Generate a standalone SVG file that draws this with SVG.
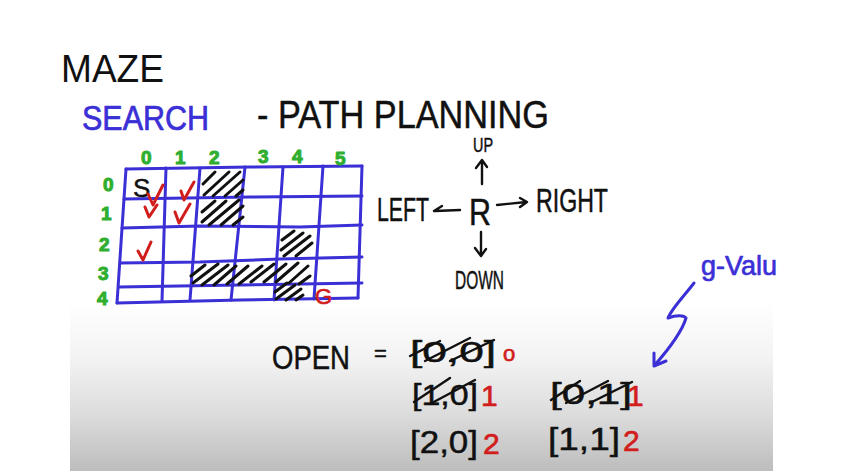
<svg xmlns="http://www.w3.org/2000/svg" width="843" height="471" viewBox="0 0 843 471">
<defs>
<linearGradient id="board" x1="0" y1="0" x2="0" y2="1">
<stop offset="0" stop-color="#ffffff"/>
<stop offset="0.55" stop-color="#ffffff"/>
<stop offset="0.7" stop-color="#f3f3f3"/>
<stop offset="0.85" stop-color="#dcdcdc"/>
<stop offset="1" stop-color="#bdbdbd"/>
</linearGradient>
</defs>
<style>
.hand{font-family:"Liberation Sans",Arial,sans-serif;stroke-linejoin:round;}
.blk{fill:#111;stroke:#111;stroke-width:0.5;}
.blue{fill:#3b2fd6;stroke:#3b2fd6;stroke-width:0.7;}
.red{fill:#d21d1d;stroke:#d21d1d;stroke-width:0.7;}
.grn{fill:#2fae2f;stroke:#2fae2f;stroke-width:1;font-weight:bold;font-size:19px;}
.grid{fill:none;stroke:#3b2fd6;stroke-width:3;stroke-linecap:round;stroke-linejoin:round;}
.hat{fill:none;stroke:#111;stroke-width:3;stroke-linecap:round;}
.chk{fill:none;stroke:#d21d1d;stroke-width:3;stroke-linecap:round;stroke-linejoin:round;}
.ink{fill:none;stroke:#111;stroke-width:2.4;stroke-linecap:round;stroke-linejoin:round;}
.bink{fill:none;stroke:#3b2fd6;stroke-width:3;stroke-linecap:round;stroke-linejoin:round;}
</style>
<rect x="0" y="0" width="843" height="471" fill="#ffffff"/>
<rect x="70" y="95" width="703" height="376" fill="url(#board)"/>
<text x="61" y="82" font-family="Liberation Sans, Arial, sans-serif" fill="#111" font-size="39" textLength="103" lengthAdjust="spacingAndGlyphs">MAZE</text>

<g id="title">
<text x="82" y="130" class="hand blue" font-size="35" textLength="127" lengthAdjust="spacingAndGlyphs">SEARCH</text>
<text x="257" y="128" class="hand blk" font-size="39" textLength="292" lengthAdjust="spacingAndGlyphs">- PATH PLANNING</text>
</g>

<g id="grid">
<path class="grid" d="M126,169 L250,167 L362,166 M124,199 L250,197 L362,196 M122,228 L200,226 L300,227 L362,225 M120,263 L200,262 L280,259 L362,257 M119,287 L240,285 L362,283 M117,303 L240,300 L358,298"/>
<path class="grid" d="M126,169 L117,303 M166,168 L162,301 M200,168 L190,300 M245,167 L231,300 M283,167 L274,300 M323,166 L314,299 M362,166 L358,298"/>
</g>

<g id="hatches">
<path class="hat" d="M203,184 L215,172 M204,195 L229,172 M213,196 L240,172 M225,196 L243,180 M236,196 L243,190"/>
<path class="hat" d="M202,212 L215,201 M202,222 L226,201 M209,225 L239,200 M221,225 L243,206 M233,225 L243,217"/>
<path class="hat" d="M282,240 L294,231 M281,250 L303,233 M284,256 L310,236 M296,256 L312,243"/>
<path class="hat" d="M191,276 L205,265 M193,283 L218,264 M202,285 L228,265 M214,285 L236,266 M227,284 L248,266 M239,284 L262,266 M251,282 L274,264 M264,282 L286,264 M276,282 L298,263 M289,283 L308,266 M299,284 L310,276"/>
<path class="hat" d="M275,292 L287,283 M276,299 L295,285 M286,300 L301,289 M296,300 L303,295"/>
</g>

<g id="col-labels">
<text x="141" y="164" class="hand grn">0</text>
<text x="175" y="164" class="hand grn">1</text>
<text x="209" y="164" class="hand grn">2</text>
<text x="258" y="163" class="hand grn">3</text>
<text x="292" y="163" class="hand grn">4</text>
<text x="335" y="165" class="hand grn" font-size="22">5</text>
</g>
<g id="row-labels">
<text x="103" y="191" class="hand grn">0</text>
<text x="101" y="220" class="hand grn">1</text>
<text x="99" y="251" class="hand grn">2</text>
<text x="98" y="280" class="hand grn">3</text>
<text x="97" y="305" class="hand grn">4</text>
</g>

<g id="marks">
<text x="133" y="197" class="hand blk" font-size="26">S</text>
<path class="chk" d="M148,194 L153,205 L163,185 M181,191 L184,200 L194,182 M145,207 L149,217 L157,205 M175,212 L179,223 L190,204 M138,251 L143,260 L151,242"/>
<text x="315" y="304" class="hand red" font-size="22">G</text>
</g>

<g id="directions">
<text x="473" y="152" class="hand blk" font-size="20" textLength="20" lengthAdjust="spacingAndGlyphs">UP</text>
<path class="ink" d="M482,184 L482,161 M476,168 L482,160 L487,167"/>
<text x="377" y="221" class="hand blk" font-size="34" textLength="52" lengthAdjust="spacingAndGlyphs">LEFT</text>
<path class="ink" d="M460,210 L435,211 M442,206 L434,211"/>
<text x="469" y="225" class="hand blk" font-size="36" textLength="22" lengthAdjust="spacingAndGlyphs">R</text>
<path class="ink" d="M497,205 L526,202 M520,198 L527,202 L520,207"/>
<text x="536" y="212" class="hand blk" font-size="33" textLength="72" lengthAdjust="spacingAndGlyphs">RIGHT</text>
<path class="ink" d="M481,232 L481,255 M475,248 L481,256 L486,249"/>
<text x="455" y="289" class="hand blk" font-size="26" textLength="49" lengthAdjust="spacingAndGlyphs">DOWN</text>
</g>

<g id="open-list">
<text x="272" y="369" class="hand blk" font-size="34" textLength="78" lengthAdjust="spacingAndGlyphs">OPEN</text>
<text x="374" y="361" class="hand blk" font-size="22">=</text>
<text x="410" y="362" class="hand blk" font-size="30" textLength="86" lengthAdjust="spacingAndGlyphs">[0,0]</text>
<path class="ink" d="M410,356 L440,341 M425,361 L470,338 M450,361 L494,340"/>
<text x="503" y="361" class="hand red" font-size="22">o</text>
<text x="412" y="405" class="hand blk" font-size="30" textLength="66" lengthAdjust="spacingAndGlyphs">[1,0]</text>
<path class="ink" d="M414,402 L450,378 M430,404 L475,380"/>
<text x="481" y="406" class="hand red" font-size="30">1</text>
<text x="550" y="404" class="hand blk" font-size="30" textLength="82" lengthAdjust="spacingAndGlyphs">[0,1]</text>
<path class="ink" d="M551,400 L580,381 M566,403 L608,381 M590,403 L632,382"/>
<text x="627" y="406" class="hand red" font-size="30">1</text>
<text x="410" y="453" class="hand blk" font-size="32" textLength="68" lengthAdjust="spacingAndGlyphs">[2,0]</text>
<text x="483" y="454" class="hand red" font-size="30">2</text>
<text x="548" y="450" class="hand blk" font-size="32" textLength="72" lengthAdjust="spacingAndGlyphs">[1,1]</text>
<text x="623" y="451" class="hand red" font-size="30">2</text>
</g>

<g id="g-value">
<text x="701" y="275" class="hand blue" font-size="28" textLength="76" lengthAdjust="spacingAndGlyphs">g-Valu</text>
<path class="bink" d="M694,283 C685,295 672,308 668,318 C676,315 684,315 686,318 C682,332 668,350 654,366 M654,353 L654,366 L666,361"/>
</g>
</svg>
